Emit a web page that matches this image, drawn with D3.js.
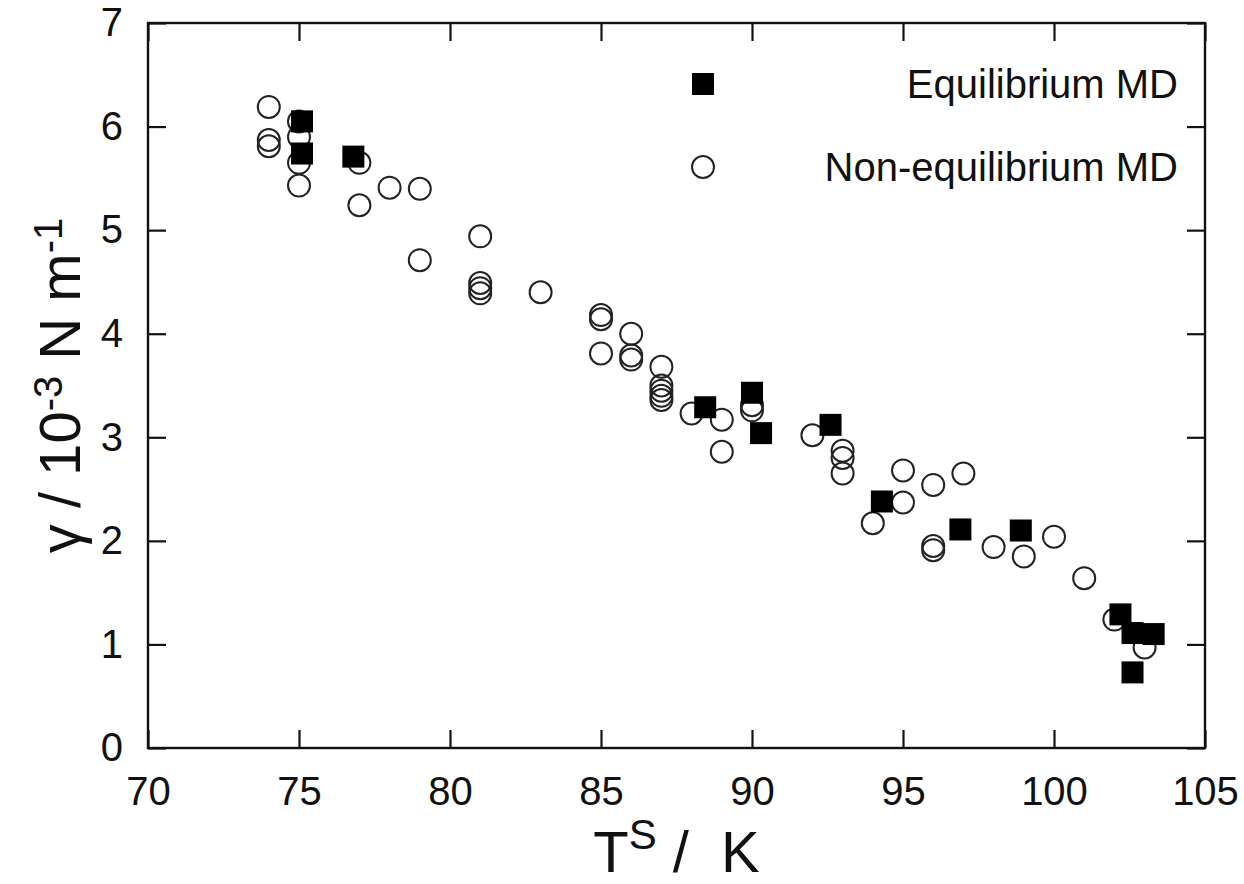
<!DOCTYPE html>
<meta charset="utf-8">
<style>
body { margin: 0; background: #fff; }
svg { display: block; }
.axis path { display: none; }
.axis line { stroke: #111; stroke-width: 2.2; }
.axis text { font: 40px "Liberation Sans", Arial, sans-serif; fill: #111; }
.title { font-family: "Liberation Sans", Arial, sans-serif; fill: #111; white-space: pre; }
.legend text { font: 40px "Liberation Sans", Arial, sans-serif; fill: #111; }
</style>
<svg width="1244" height="884"></svg>
<script src="https://cdnjs.cloudflare.com/ajax/libs/d3/7.8.5/d3.min.js"></script>
<script>

// surface tension vs temperature
var eqT     = [75.1, 75.1, 76.8, 88.45, 90.0, 90.3, 92.6, 94.3, 96.9, 98.9, 102.2, 102.6, 103.3, 102.6];
var eqGamma = [6.05, 5.74, 5.71, 3.29, 3.43, 3.04, 3.12, 2.38, 2.11, 2.10, 1.29, 1.11, 1.10, 0.73];

var neqT     = [74, 74, 74, 75, 75, 75, 75, 77, 77, 78, 79, 79, 81, 81, 81, 81, 83,
                85, 85, 85, 86, 86, 86, 87, 87, 87, 87, 87, 88, 89, 89, 90, 90, 92,
                93, 93, 93, 94, 95, 95, 96, 96, 96, 97, 98, 99, 100, 101, 102, 103];
var neqGamma = [6.19, 5.87, 5.81, 6.05, 5.90, 5.65, 5.43, 5.65, 5.24, 5.41, 5.40, 4.71, 4.94, 4.49, 4.44, 4.39, 4.40,
                4.18, 4.14, 3.81, 4.00, 3.79, 3.75, 3.68, 3.50, 3.45, 3.40, 3.36, 3.23, 3.17, 2.86, 3.31, 3.26, 3.02,
                2.87, 2.80, 2.65, 2.17, 2.68, 2.37, 2.54, 1.95, 1.91, 2.65, 1.94, 1.85, 2.04, 1.64, 1.24, 0.97];

var xTicks = [70, 75, 80, 85, 90, 95, 100, 105];
var yTicks = [0, 1, 2, 3, 4, 5, 6, 7];

var seriesNames = ["Equilibrium MD", "Non-equilibrium MD"];

var svg = d3.select("svg"),
    x0 = 148, x1 = 1205, y0 = 748, y1 = 23,
    tick = 18;

var x = d3.scaleLinear().domain([70, 105]).range([x0, x1]);
var y = d3.scaleLinear().domain([0, 7]).range([y0, y1]);

// axes, ticks pointing inward, mirrored on top and right
svg.append("g").attr("class", "axis")
    .attr("transform", "translate(0," + y0 + ")")
    .call(d3.axisBottom(x).tickValues(xTicks).tickFormat(d3.format("d"))
      .tickSize(-tick).tickSizeOuter(0).tickPadding(29));

svg.append("g").attr("class", "axis")
    .attr("transform", "translate(0," + y1 + ")")
    .call(d3.axisTop(x).tickValues(xTicks).tickSize(-tick).tickSizeOuter(0).tickFormat(""));

svg.append("g").attr("class", "axis")
    .attr("transform", "translate(" + x0 + ",0)")
    .call(d3.axisLeft(y).tickValues(yTicks).tickFormat(d3.format("d"))
      .tickSize(-tick).tickSizeOuter(0).tickPadding(25));

svg.append("g").attr("class", "axis")
    .attr("transform", "translate(" + x1 + ",0)")
    .call(d3.axisRight(y).tickValues(yTicks).tickSize(-tick).tickSizeOuter(0).tickFormat(""));

svg.append("rect")
    .attr("x", x0).attr("y", y1)
    .attr("width", x1 - x0).attr("height", y0 - y1)
    .attr("fill", "none").attr("stroke", "#111").attr("stroke-width", 2.4);

// points
var neq = neqT.map(function(t, i) { return {t: t, g: neqGamma[i]}; });
var eq = eqT.map(function(t, i) { return {t: t, g: eqGamma[i]}; });

svg.append("g").selectAll("circle").data(neq).enter().append("circle")
    .attr("cx", function(d) { return x(d.t); })
    .attr("cy", function(d) { return y(d.g); })
    .attr("r", 11)
    .attr("fill", "none")
    .attr("stroke", "#222")
    .attr("stroke-width", 2);

var sq = 22;
svg.append("g").selectAll("rect").data(eq).enter().append("rect")
    .attr("x", function(d) { return x(d.t) - sq / 2; })
    .attr("y", function(d) { return y(d.g) - sq / 2; })
    .attr("width", sq).attr("height", sq)
    .attr("fill", "#000");

// legend
var legend = svg.append("g").attr("class", "legend");
legend.append("rect")
    .attr("x", 703 - sq / 2).attr("y", 84 - sq / 2)
    .attr("width", sq).attr("height", sq).attr("fill", "#000");
legend.append("circle")
    .attr("cx", 703).attr("cy", 167).attr("r", 11)
    .attr("fill", "none").attr("stroke", "#222").attr("stroke-width", 2);
legend.selectAll("text").data(seriesNames).enter().append("text")
    .attr("x", 1178)
    .attr("y", function(d, i) { return 98 + i * 83; })
    .attr("text-anchor", "end")
    .text(function(d) { return d; });

// axis titles
var xt = svg.append("text").attr("class", "title")
    .attr("x", (x0 + x1) / 2).attr("y", 872)
    .attr("text-anchor", "middle")
    .style("font-size", "58px");
xt.append("tspan").text("T");
xt.append("tspan").attr("dy", -23).style("font-size", "42px").text("S");
xt.append("tspan").attr("dy", 23).text(" /  K");

var yt = svg.append("text").attr("class", "title")
    .attr("transform", "translate(80," + (y0 + y1) / 2 + ") rotate(-90)")
    .attr("text-anchor", "middle")
    .style("font-size", "58px");
yt.append("tspan").text("\u03b3 / 10");
yt.append("tspan").attr("dy", -18).style("font-size", "40px").text("-3");
yt.append("tspan").attr("dy", 18).text(" N m");
yt.append("tspan").attr("dy", -18).style("font-size", "40px").text("-1");

</script>
